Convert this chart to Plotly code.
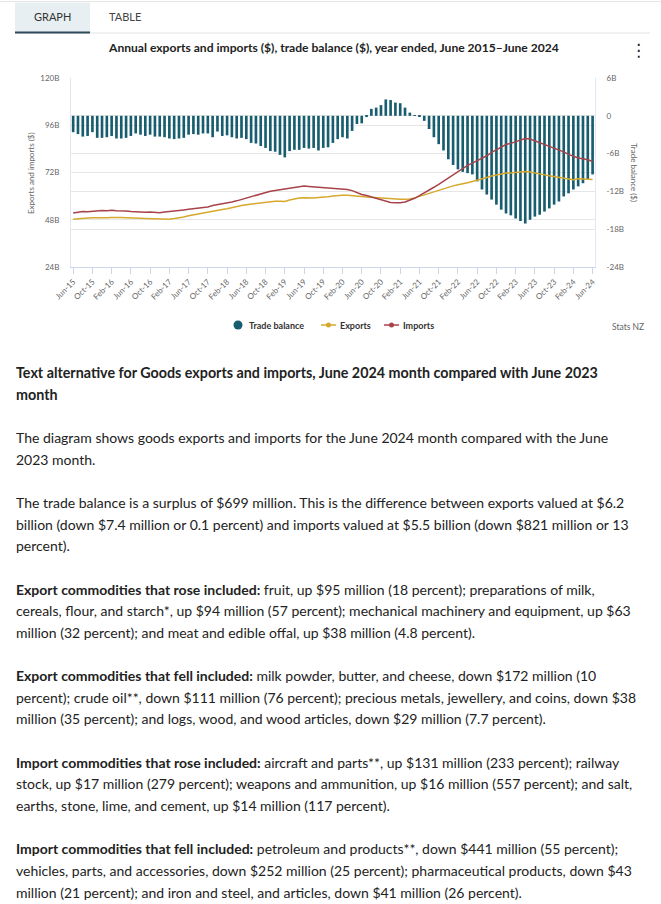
import plotly.graph_objects as go
import pandas as pd

# ---------------- data ----------------
months = pd.date_range("2015-06-01", "2024-06-01", freq="MS").strftime("%b-%y").tolist()

trade_balance = [
    -2.6, -2.9, -3.3, -3.2, -2.6, -3.5, -3.5, -3.4, -3.2, -3.6, -3.6, -3.5,
    -3.2, -2.8, -3.0, -3.2, -3.0, -3.3, -3.3, -3.4, -3.6, -3.7, -3.6, -3.5,
    -3.0, -2.9, -3.0, -2.8, -2.8, -3.4, -2.5, -3.2, -3.1, -3.4, -3.6, -3.5,
    -3.7, -4.3, -4.4, -4.8, -5.1, -5.6, -5.7, -6.2, -6.6, -5.6, -5.4, -5.4,
    -5.1, -5.2, -5.1, -5.5, -5.1, -5.0, -4.3, -3.7, -3.4, -3.6, -2.4, -1.3,
    -1.2, -0.2, 1.1, 1.3, 1.7, 2.6, 2.5, 2.1, 2.0, 1.3, 0.5, 0.1,
    -0.1, -0.8, -2.1, -3.4, -4.5, -5.5, -6.9, -7.8, -8.5, -8.9, -9.1, -9.3,
    -10.4, -11.7, -12.5, -13.3, -14.1, -14.9, -15.5, -15.8, -16.3, -16.7, -17.1, -16.5,
    -16.0, -15.7, -15.2, -14.7, -14.1, -13.6, -12.8, -12.3, -11.7, -11.2, -10.7, -10.1,
    -9.3,
]

exports = [
    48.3, 48.6, 48.8, 48.9, 49.0, 48.9, 48.9, 49.0, 49.2, 49.0, 49.1, 49.0,
    49.0, 48.8, 48.7, 48.6, 48.5, 48.4, 48.3, 48.4, 48.3, 48.6, 48.9, 49.4,
    50.0, 50.5, 51.0, 51.5, 52.0, 52.4, 52.8, 53.2, 53.6, 54.2, 54.8, 55.2,
    55.6, 55.9, 56.3, 56.6, 57.1, 57.3, 57.4, 57.4, 57.3, 58.0, 58.7, 59.1,
    59.2, 59.0, 59.1, 59.3, 59.4, 59.7, 60.1, 60.4, 60.5, 60.4, 60.1, 59.9,
    59.8, 59.6, 59.4, 59.2, 59.0, 58.9, 58.7, 58.5, 58.4, 58.4, 58.5, 59.1,
    59.9, 60.6, 61.3, 62.0, 62.8, 63.6, 64.5, 65.2, 65.8, 66.2, 66.8, 67.4,
    68.0, 68.8, 69.5, 70.2, 70.8, 71.3, 71.7, 71.8, 72.0, 72.2, 72.5, 72.3,
    71.9, 71.3, 70.8, 70.3, 69.9, 69.4, 69.0, 68.5, 68.3, 68.8, 68.7, 68.6,
    68.5,
]

imports = [
    51.4, 51.7, 52.2, 52.1, 52.3, 52.6, 52.7, 52.6, 52.8, 52.6, 52.7, 52.5,
    52.2, 52.0, 51.9, 51.8, 51.9, 51.7, 51.6, 51.9, 52.1, 52.3, 52.6, 53.0,
    53.3, 53.6, 54.0, 54.2, 54.5, 55.2, 55.6, 56.0, 56.5, 57.0, 57.6, 58.3,
    59.0, 59.8, 60.6, 61.3, 62.0, 62.5, 62.9, 63.3, 63.7, 64.0, 64.4, 64.8,
    65.1, 64.9, 64.7, 64.8, 64.6, 64.4, 64.2, 64.0, 63.8, 63.4, 62.8, 61.6,
    60.8, 60.3, 59.6, 58.8, 58.2, 57.2, 56.8, 56.6, 56.6, 57.0, 57.8, 58.9,
    60.3, 61.6, 63.0, 64.5, 66.0, 67.6, 69.3, 70.8, 72.4, 74.2, 75.6, 76.8,
    77.9, 79.1, 80.5, 82.2, 83.6, 84.7, 86.2, 86.8, 87.6, 88.4, 89.3, 89.0,
    88.1, 87.2, 86.3, 85.4, 84.3, 83.3, 82.5, 81.2, 80.3, 79.4, 79.0, 78.5,
    77.6,
]

x_tick_labels = [
    "Jun-15", "Oct-15", "Feb-16", "Jun-16", "Oct-16", "Feb-17", "Jun-17",
    "Oct-17", "Feb-18", "Jun-18", "Oct-18", "Feb-19", "Jun-19", "Oct-19",
    "Feb-20", "Jun-20", "Oct-20", "Feb-21", "Jun-21", "Oct-21", "Feb-22",
    "Jun-22", "Oct-22", "Feb-23", "Jun-23", "Oct-23", "Feb-24", "Jun-24",
]
left_ticks = [24, 48, 72, 96, 120]
left_tick_text = ["24B", "48B", "72B", "96B", "120B"]
right_ticks = [-24, -18, -12, -6, 0, 6]
right_tick_text = ["-24B", "-18B", "-12B", "-6B", "0", "6B"]

# ---------------- style ----------------
W, H = 661, 904
FONT = "Lato"
TEAL = "#175d6f"
GOLD = "#d6a82c"
RED = "#a8434a"
GRID = "#e6e6e6"
AXIS = "#ccd6eb"
TICKC = "#666666"
TEXTC = "#222222"


def px(x):
    return x / W


def py(y):
    return 1 - y / H


fig = go.Figure()

fig.add_trace(go.Bar(x=months, y=trade_balance, yaxis="y", marker=dict(color=TEAL, line=dict(width=0)),
                     showlegend=False, name="Trade balance"))
fig.add_trace(go.Scatter(x=months, y=exports, yaxis="y2", mode="lines",
                         line=dict(color=GOLD, width=1.5), showlegend=False, name="Exports"))
fig.add_trace(go.Scatter(x=months, y=imports, yaxis="y2", mode="lines",
                         line=dict(color=RED, width=1.5), showlegend=False, name="Imports"))

axis_common = dict(automargin=False, fixedrange=True)

fig.update_layout(
    width=W, height=H,
    margin=dict(l=0, r=0, t=0, b=0, pad=0, autoexpand=False),
    paper_bgcolor="white", plot_bgcolor="white",
    font=dict(family=FONT, color=TEXTC),
    bargap=0.45,
    showlegend=False,
    xaxis=dict(type="category", domain=[px(71), px(595)], range=[-0.45, 108.5],
               tickmode="array", tickvals=x_tick_labels, ticktext=x_tick_labels,
               tickangle=-45, ticks="outside", ticklen=6, tickcolor=AXIS, tickwidth=1,
               showline=True, linecolor=AXIS, linewidth=1, showgrid=False, zeroline=False,
               tickfont=dict(size=8, color=TICKC, family=FONT), anchor="y", **axis_common),
    yaxis=dict(domain=[py(267), py(78)], range=[-24, 6], side="right",
               tickmode="array", tickvals=right_ticks, ticktext=right_tick_text,
               showgrid=True, gridcolor=GRID, gridwidth=1, zeroline=False,
               showline=True, linecolor="#e3e6ee", linewidth=1,
               ticks="outside", ticklen=9, tickcolor="rgba(0,0,0,0)",
               tickfont=dict(size=8, color=TICKC, family=FONT), anchor="x", **axis_common),
    yaxis2=dict(overlaying="y", range=[24, 120], side="left",
                tickmode="array", tickvals=left_ticks, ticktext=left_tick_text,
                showgrid=True, gridcolor=GRID, gridwidth=1, zeroline=False,
                showline=True, linecolor="#e3e6ee", linewidth=1,
                ticks="outside", ticklen=9, tickcolor="rgba(0,0,0,0)",
                tickfont=dict(size=8, color=TICKC, family=FONT), anchor="x", **axis_common),
)

LEG_Y = 325
shapes = [
    # top border
    dict(type="line", xref="paper", yref="paper", x0=0, x1=1, y0=py(1.5), y1=py(1.5),
         line=dict(color="#e6e6e6", width=1)),
    # active tab background
    dict(type="rect", xref="paper", yref="paper", x0=px(15), x1=px(90), y0=py(33), y1=py(2.5),
         fillcolor="#e8eff2", line=dict(width=0), layer="below"),
    # tab separator
    dict(type="line", xref="paper", yref="paper", x0=px(15), x1=px(650), y0=py(33), y1=py(33),
         line=dict(color="#e3e3e3", width=1)),
    # active tab underline
    dict(type="line", xref="paper", yref="paper", x0=px(15), x1=px(90), y0=py(32.5), y1=py(32.5),
         line=dict(color="#2e4a5a", width=2)),
    # legend symbols
    dict(type="circle", xref="paper", yref="paper", x0=px(233.5), x1=px(242.5),
         y0=py(LEG_Y + 4.5), y1=py(LEG_Y - 4.5), fillcolor=TEAL, line=dict(width=0)),
    dict(type="line", xref="paper", yref="paper", x0=px(321), x1=px(336), y0=py(LEG_Y), y1=py(LEG_Y),
         line=dict(color=GOLD, width=1.5)),
    dict(type="circle", xref="paper", yref="paper", x0=px(326), x1=px(331),
         y0=py(LEG_Y + 2.5), y1=py(LEG_Y - 2.5), fillcolor=GOLD, line=dict(width=0)),
    dict(type="line", xref="paper", yref="paper", x0=px(384), x1=px(399), y0=py(LEG_Y), y1=py(LEG_Y),
         line=dict(color=RED, width=1.5)),
    dict(type="circle", xref="paper", yref="paper", x0=px(389), x1=px(394),
         y0=py(LEG_Y + 2.5), y1=py(LEG_Y - 2.5), fillcolor=RED, line=dict(width=0)),
]

annotations = [
    dict(text="GRAPH", x=px(52.5), y=py(16), font=dict(size=11, color="#333333")),
    dict(text="TABLE", x=px(125), y=py(16), font=dict(size=11, color="#444444")),
    dict(text="<b>Annual exports and imports ($), trade balance ($), year ended, June 2015\u2013June 2024</b>",
         x=px(333), y=py(47), font=dict(size=12.1, color=TEXTC)),
    dict(text="\u22ee", x=px(638), y=py(50), font=dict(size=17, color="#222222", family="DejaVu Sans")),
    dict(text="Exports and imports ($)", x=px(31), y=py(173), textangle=-90,
         font=dict(size=8, color=TICKC)),
    dict(text="Trade balance ($)", x=px(634), y=py(172), textangle=90,
         font=dict(size=8, color=TICKC)),
    dict(text="Stats NZ", x=px(628), y=py(327), font=dict(size=8.5, color=TICKC)),
]
for a in annotations:
    a.update(xref="paper", yref="paper", showarrow=False, xanchor="center", yanchor="middle")

legend_texts = [("Trade balance", 247), ("Exports", 337.5), ("Imports", 400.5)]
for t, xl in legend_texts:
    annotations.append(dict(text="<b>%s</b>" % t, x=px(xl), y=py(LEG_Y), xref="paper", yref="paper",
                            showarrow=False, xanchor="left", yanchor="middle",
                            font=dict(size=9, color="#333333", family=FONT)))

body_lines = {
    0: "<b>Text alternative for Goods exports and imports, June 2024 month compared with June 2023</b>",
    1: "<b>month</b>",
    3: "The diagram shows goods exports and imports for the June 2024 month compared with the June",
    4: "2023 month.",
    6: "The trade balance is a surplus of $699 million. This is the difference between exports valued at $6.2",
    7: "billion (down $7.4 million or 0.1 percent) and imports valued at $5.5 billion (down $821 million or 13",
    8: "percent).",
    10: "<b>Export commodities that rose included:</b> fruit, up $95 million (18 percent); preparations of milk,",
    11: "cereals, flour, and starch*, up $94 million (57 percent); mechanical machinery and equipment, up $63",
    12: "million (32 percent); and meat and edible offal, up $38 million (4.8 percent).",
    14: "<b>Export commodities that fell included:</b> milk powder, butter, and cheese, down $172 million (10",
    15: "percent); crude oil**, down $111 million (76 percent); precious metals, jewellery, and coins, down $38",
    16: "million (35 percent); and logs, wood, and wood articles, down $29 million (7.7 percent).",
    18: "<b>Import commodities that rose included:</b> aircraft and parts**, up $131 million (233 percent); railway",
    19: "stock, up $17 million (279 percent); weapons and ammunition, up $16 million (557 percent); and salt,",
    20: "earths, stone, lime, and cement, up $14 million (117 percent).",
    22: "<b>Import commodities that fell included:</b> petroleum and products**, down $441 million (55 percent);",
    23: "vehicles, parts, and accessories, down $252 million (25 percent); pharmaceutical products, down $43",
    24: "million (21 percent); and iron and steel, and articles, down $41 million (26 percent).",
}
for k, t in body_lines.items():
    size = 14.3 if k in (0, 1) else 14
    annotations.append(dict(text=t, x=px(14), y=py(372.5 + 21.65 * k), xref="paper", yref="paper",
                            showarrow=False, xanchor="left", yanchor="middle",
                            font=dict(size=size, color=TEXTC, family=FONT)))

fig.update_layout(shapes=shapes, annotations=annotations)
fig.write_html(
    "out.html",
    config=dict(displayModeBar=False),
    post_script="document.body.style.margin='0px';document.body.style.padding='0px';"
                "document.documentElement.style.overflow='hidden';document.body.style.overflow='hidden';",
)
